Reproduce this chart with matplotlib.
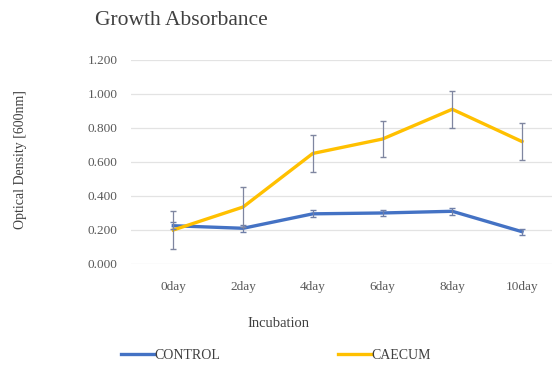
import numpy as np
import matplotlib.pyplot as plt

days = ["0day", "2day", "4day", "6day", "8day", "10day"]
control = [0.225, 0.210, 0.295, 0.300, 0.310, 0.190]
control_err = [0.020, 0.020, 0.020, 0.018, 0.020, 0.018]
caecum = [0.200, 0.335, 0.650, 0.735, 0.910, 0.720]
caecum_err = [0.110, 0.115, 0.110, 0.108, 0.110, 0.110]

plt.rcParams['font.family'] = ['Liberation Serif', 'DejaVu Serif']

fig = plt.figure(figsize=(5.57, 3.70), dpi=100)
ax = fig.add_axes([0.236, 0.2865, 0.755, 0.5515])

x = np.arange(len(days))
ax.plot(x, control, color='#4472C4', lw=2.4, label='CONTROL', zorder=3)
ax.errorbar(x, control, yerr=control_err, fmt='none', ecolor='#6f7fa8',
            elinewidth=0.9, capsize=2.5, zorder=4)
ax.plot(x, caecum, color='#FFC000', lw=2.4, label='CAECUM', zorder=3)
ax.errorbar(x, caecum, yerr=caecum_err, fmt='none', ecolor='#7f86a0',
            elinewidth=0.9, capsize=2.5, zorder=4)

ax.set_xlim(-0.6, 5.43)
ax.set_ylim(0, 1.2)
ax.set_yticks(np.arange(0, 1.21, 0.2))
ax.set_yticklabels([f"{v:.3f}" for v in np.arange(0, 1.21, 0.2)])
ax.set_xticks(x)
ax.set_xticklabels(days)
ax.grid(axis='y', color='#e3e3e3', lw=0.9)
ax.set_axisbelow(True)
for s in ax.spines.values():
    s.set_visible(False)
ax.tick_params(length=0, labelsize=9.5, colors='#595959')
ax.tick_params(axis='y', pad=10)
ax.tick_params(axis='x', pad=12)

fig.text(0.17, 0.945, "Growth Absorbance", fontsize=15.5, color='#404040',
         ha='left', va='center')
fig.text(0.036, 0.57, "Optical Density [600nm]", rotation=90, fontsize=10,
         color='#404040', ha='center', va='center')
fig.text(0.50, 0.127, "Incubation", fontsize=10.5, color='#404040',
         ha='center', va='center')

fig.legend(loc='center', bbox_to_anchor=(0.495, 0.04), ncol=2, frameon=False,
           fontsize=10, handlelength=2.4, handletextpad=0.0, columnspacing=8.5,
           labelcolor='#404040')

fig.savefig("out.png", dpi=100)
